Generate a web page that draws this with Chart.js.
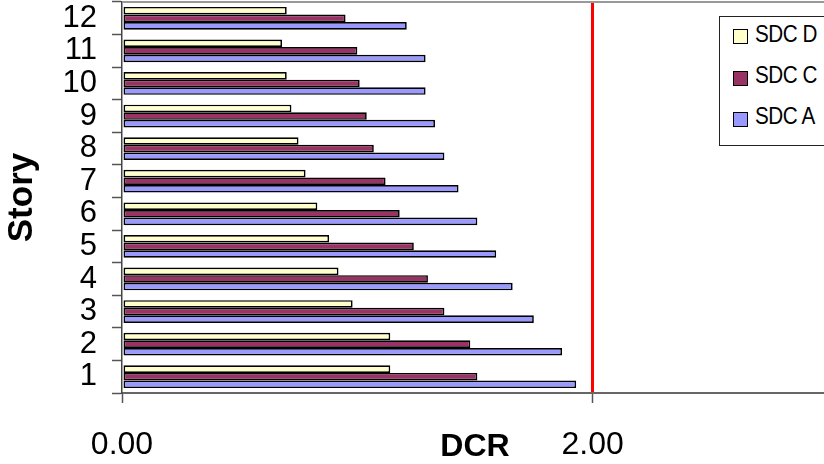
<!DOCTYPE html>
<html>
<head>
<meta charset="utf-8">
<script src="https://cdn.jsdelivr.net/npm/chart.js@4.4.1/dist/chart.umd.min.js"></script>
<style>
  html, body { margin: 0; padding: 0; overflow: hidden; background: #fff; width: 824px; height: 464px; }
  #wrap { position: relative; width: 824px; height: 464px; overflow: hidden; }
  #c { position: absolute; left: 0; top: 0; }
  #legend {
    position: absolute; left: 719px; top: 16px; width: 140px; height: 130px;
    border: 1px solid #222; background: #fff; box-sizing: border-box;
    font-family: 'Liberation Sans', Arial, sans-serif;
  }
  .sw { position: absolute; left: 13px; width: 13px; height: 13px; border: 1.5px solid #000; }
  .lbl {
    position: absolute; left: 35px; font-size: 24px; line-height: 24px; color: #000; white-space: nowrap;
    letter-spacing: -0.5px; transform: scaleX(0.86); transform-origin: left center;
  }
</style>
</head>
<body>
<div id="wrap">
  <canvas id="c" width="860" height="464"></canvas>
  <div id="legend"></div>
</div>
<script>
// Demand/capacity ratio per story for three seismic design categories
const stories = ['1', '2', '3', '4', '5', '6', '7', '8', '9', '10', '11', '12'];
const sdcD = [1.14, 1.14, 0.98, 0.92, 0.88, 0.83, 0.78, 0.75, 0.72, 0.70, 0.68, 0.70];
const sdcC = [1.51, 1.48, 1.37, 1.30, 1.24, 1.18, 1.12, 1.07, 1.04, 1.01, 1.00, 0.95];
const sdcA = [1.93, 1.87, 1.75, 1.66, 1.59, 1.51, 1.43, 1.37, 1.33, 1.29, 1.29, 1.21];
const seriesNames = ['SDC D', 'SDC C', 'SDC A'];
const seriesColors = ['#FFFFCC', '#993366', '#9999FF'];
const xTickValues = [0, 2];
const dcrLimit = 2;
const xMax = 3;

const FONT = "'Liberation Sans', Arial, sans-serif";

// gray frame along the top and right of the plot area
const plotFrame = {
  id: 'plotFrame',
  beforeDatasetsDraw(chart) {
    const { ctx, chartArea: a } = chart;
    ctx.save();
    ctx.strokeStyle = '#999';
    ctx.lineWidth = 2;
    ctx.beginPath();
    ctx.moveTo(a.left, a.top);
    ctx.lineTo(a.right, a.top);
    ctx.lineTo(a.right, a.bottom);
    ctx.stroke();
    ctx.restore();
  }
};

const seriesData = [sdcD, sdcC, sdcA];
const datasets = seriesNames.map((name, i) => ({
  label: name,
  data: seriesData[i],
  backgroundColor: seriesColors[i],
  borderColor: '#000',
  borderWidth: 1.7,
  borderSkipped: false,
  inflateAmount: 0,
  categoryPercentage: 0.7,
  barPercentage: 1.0
}));

const chart = new Chart(document.getElementById('c'), {
  type: 'bar',
  data: { labels: stories, datasets },
  plugins: [plotFrame],
  options: {
    indexAxis: 'y',
    responsive: false,
    animation: false,
    layout: { padding: { top: 2, right: 32, left: 0, bottom: 0 } },
    plugins: { legend: { display: false }, tooltip: { enabled: false } },
    scales: {
      x: {
        min: 0,
        max: xMax,
        afterBuildTicks(scale) { scale.ticks = xTickValues.map(v => ({ value: v })); },
        afterFit(scale) { scale.height = 71; },
        ticks: {
          callback: v => Number(v).toFixed(2),
          font: { family: FONT, size: 32 },
          color: '#000',
          padding: 23,
          maxRotation: 0,
          autoSkip: false
        },
        grid: {
          color: c => (c.tick && c.tick.value === dcrLimit) ? '#FF0000' : 'rgba(0,0,0,0)',
          lineWidth: 3,
          drawTicks: true,
          tickLength: 10,
          tickColor: '#555',
          tickWidth: 1.5
        },
        border: { color: '#666', width: 2 },
        title: {
          display: true,
          text: 'DCR',
          color: '#000',
          font: { family: FONT, size: 32, weight: 'bold' },
          padding: { top: 0, bottom: -2 }
        }
      },
      y: {
        reverse: true,
        afterFit(scale) {
          scale.width = 122;
          scale.paddingTop = 0;
          scale.paddingBottom = 0;
        },
        ticks: { font: { family: FONT, size: 31 }, color: '#000', padding: 15, autoSkip: false },
        grid: { drawOnChartArea: false, tickLength: 10, tickColor: '#555', tickWidth: 1.5 },
        border: { color: '#444', width: 1.5 },
        title: {
          display: true,
          text: 'Story',
          color: '#000',
          font: { family: FONT, size: 35, weight: 'bold' },
          padding: { top: 1.5, bottom: 0 }
        }
      }
    }
  }
});

// legend built from the chart's datasets
const legend = document.getElementById('legend');
chart.data.datasets.forEach((ds, i) => {
  const sw = document.createElement('div');
  sw.className = 'sw';
  sw.style.top = (12 + 41.5 * i) + 'px';
  sw.style.background = ds.backgroundColor;
  legend.appendChild(sw);
  const lbl = document.createElement('div');
  lbl.className = 'lbl';
  lbl.style.top = (5 + 41 * i) + 'px';
  lbl.textContent = ds.label;
  legend.appendChild(lbl);
});
</script>
</body>
</html>
